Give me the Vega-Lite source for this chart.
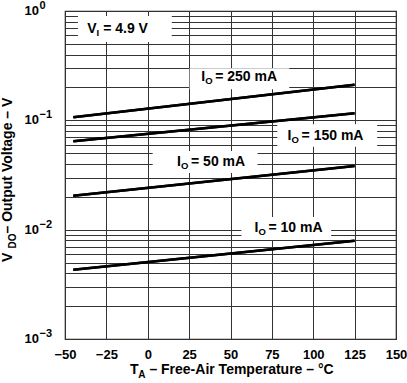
{
  "$schema": "https://vega.github.io/schema/vega-lite/v6.json",
  "width": 331,
  "height": 328,
  "autosize": {"type": "none"},
  "padding": {"left": 65, "top": 11, "right": 11, "bottom": 44},
  "background": "white",
  "config": {
    "view": {"stroke": "#222", "strokeWidth": 1.2},
    "font": "Liberation Sans",
    "text": {"font": "Liberation Sans", "fontWeight": "bold", "color": "#000"}
  },
  "resolve": {"axis": {"x": "independent", "y": "independent"}},
  "datasets": {
    "curves": [
      {"series": "250 mA", "t": -45, "v": 0.1065},
      {"series": "250 mA", "t": 125, "v": 0.212},
      {"series": "150 mA", "t": -45, "v": 0.0643},
      {"series": "150 mA", "t": 125, "v": 0.116},
      {"series": "50 mA", "t": -45, "v": 0.0204},
      {"series": "50 mA", "t": 125, "v": 0.0382},
      {"series": "10 mA", "t": -45, "v": 0.0043},
      {"series": "10 mA", "t": 125, "v": 0.00792}
    ],
    "boxes": [
      {"t": -42.2, "t2": 14.5, "v": 0.9, "v2": 0.52},
      {"t": 25.3, "t2": 85.5, "v": 0.299, "v2": 0.192},
      {"t": 78.3, "t2": 138.6, "v": 0.0919, "v2": 0.0574},
      {"t": 3.0, "t2": 66.3, "v": 0.0524, "v2": 0.033},
      {"t": 56.6, "t2": 110.8, "v": 0.01303, "v2": 0.00803}
    ],
    "iolabels": [
      {"t": 32.3, "v": 0.23, "rest": "= 250 mA"},
      {"t": 84.5, "v": 0.0661, "rest": "= 150 mA"},
      {"t": 17.7, "v": 0.0384, "rest": "= 50 mA"},
      {"t": 64.5, "v": 0.00957, "rest": "= 10 mA"}
    ],
    "vlabel": [
      {"t": -36.6, "v": 0.625, "rest": "= 4.9 V"}
    ],
    "ylabels": [
      {"v": 1, "e": "0"},
      {"v": 0.1, "e": "−1"},
      {"v": 0.01, "e": "−2"},
      {"v": 0.001, "e": "−3"}
    ]
  },
  "layer": [
    {
      "data": {"name": "curves"},
      "mark": {"type": "line", "color": "#000", "strokeWidth": 2.5, "clip": true},
      "encoding": {
        "x": {
          "field": "t", "type": "quantitative",
          "scale": {"domain": [-50, 150], "nice": false, "zero": false},
          "axis": {
            "values": [-50, -25, 0, 25, 50, 75, 100, 125, 150],
            "grid": true, "gridColor": "#333", "gridWidth": 1, "gridOpacity": 1,
            "ticks": false, "domain": false, "zindex": 0,
            "labelFont": "Liberation Sans", "labelFontWeight": "bold", "labelFontSize": 13,
            "labelColor": "#000", "labelPadding": 9, "labelFlush": false,
            "labelOverlap": false, "labelBound": false, "title": null
          }
        },
        "y": {
          "field": "v", "type": "quantitative",
          "scale": {"type": "log", "domain": [0.001, 1], "nice": false},
          "axis": {
            "values": [0.001, 0.002, 0.003, 0.004, 0.005, 0.006, 0.007, 0.008, 0.009,
                       0.01, 0.02, 0.03, 0.04, 0.05, 0.06, 0.07, 0.08, 0.09,
                       0.1, 0.2, 0.3, 0.4, 0.5, 0.6, 0.7, 0.8, 0.9, 1],
            "grid": true, "gridColor": "#333", "gridWidth": 1, "gridOpacity": 1,
            "ticks": false, "domain": false, "labels": false, "zindex": 0, "title": null
          }
        },
        "detail": {"field": "series", "type": "nominal"}
      }
    },
    {
      "data": {"name": "boxes"},
      "mark": {"type": "rect", "fill": "white", "stroke": null},
      "encoding": {
        "x": {"field": "t", "type": "quantitative", "axis": null},
        "x2": {"field": "t2"},
        "y": {"field": "v", "type": "quantitative", "axis": null},
        "y2": {"field": "v2"}
      }
    },
    {
      "data": {"name": "curves"},
      "mark": {"type": "line", "color": "#000", "strokeWidth": 2.5},
      "encoding": {
        "x": {"field": "t", "type": "quantitative", "axis": null},
        "y": {"field": "v", "type": "quantitative", "axis": null},
        "detail": {"field": "series", "type": "nominal"}
      }
    },
    {
      "data": {"name": "iolabels"},
      "mark": {"type": "text", "text": "I", "align": "left", "baseline": "alphabetic", "fontSize": 14},
      "encoding": {
        "x": {"field": "t", "type": "quantitative", "axis": null},
        "y": {"field": "v", "type": "quantitative", "axis": null}
      }
    },
    {
      "data": {"name": "iolabels"},
      "mark": {"type": "text", "text": "O", "align": "left", "baseline": "alphabetic", "fontSize": 9.5, "dx": 4, "dy": 3},
      "encoding": {
        "x": {"field": "t", "type": "quantitative", "axis": null},
        "y": {"field": "v", "type": "quantitative", "axis": null}
      }
    },
    {
      "data": {"name": "iolabels"},
      "mark": {"type": "text", "align": "left", "baseline": "alphabetic", "fontSize": 14, "dx": 14},
      "encoding": {
        "x": {"field": "t", "type": "quantitative", "axis": null},
        "y": {"field": "v", "type": "quantitative", "axis": null},
        "text": {"field": "rest"}
      }
    },
    {
      "data": {"name": "vlabel"},
      "mark": {"type": "text", "text": "V", "align": "left", "baseline": "alphabetic", "fontSize": 14},
      "encoding": {
        "x": {"field": "t", "type": "quantitative", "axis": null},
        "y": {"field": "v", "type": "quantitative", "axis": null}
      }
    },
    {
      "data": {"name": "vlabel"},
      "mark": {"type": "text", "text": "I", "align": "left", "baseline": "alphabetic", "fontSize": 9.5, "dx": 9.4, "dy": 3},
      "encoding": {
        "x": {"field": "t", "type": "quantitative", "axis": null},
        "y": {"field": "v", "type": "quantitative", "axis": null}
      }
    },
    {
      "data": {"name": "vlabel"},
      "mark": {"type": "text", "align": "left", "baseline": "alphabetic", "fontSize": 14, "dx": 16},
      "encoding": {
        "x": {"field": "t", "type": "quantitative", "axis": null},
        "y": {"field": "v", "type": "quantitative", "axis": null},
        "text": {"field": "rest"}
      }
    },
    {
      "data": {"name": "ylabels"},
      "mark": {"type": "text", "text": "10", "align": "right", "baseline": "middle", "fontSize": 13, "dx": -26},
      "encoding": {
        "x": {"datum": -50, "type": "quantitative", "axis": null},
        "y": {"field": "v", "type": "quantitative", "axis": null}
      }
    },
    {
      "data": {"name": "ylabels"},
      "mark": {"type": "text", "align": "left", "baseline": "middle", "fontSize": 11, "dx": -25.5, "dy": -5},
      "encoding": {
        "x": {"datum": -50, "type": "quantitative", "axis": null},
        "y": {"field": "v", "type": "quantitative", "axis": null},
        "text": {"field": "e"}
      }
    },
    {
      "data": {"values": [{}]},
      "layer": [
        {
          "mark": {"type": "text", "text": "T", "align": "left", "baseline": "alphabetic", "fontSize": 14}
        },
        {
          "mark": {"type": "text", "text": "A", "align": "left", "baseline": "alphabetic", "fontSize": 10, "dx": 8.3, "dy": 3.5}
        },
        {
          "mark": {"type": "text", "text": "– Free-Air Temperature – °C", "align": "left", "baseline": "alphabetic", "fontSize": 14, "dx": 19.5}
        }
      ],
      "encoding": {
        "x": {"datum": -10.8, "type": "quantitative", "axis": null},
        "y": {"datum": 0.000474, "type": "quantitative", "axis": null}
      }
    },
    {
      "data": {"values": [{}]},
      "layer": [
        {
          "mark": {"type": "text", "text": "V", "angle": 270, "align": "left", "baseline": "alphabetic", "fontSize": 14}
        },
        {
          "mark": {"type": "text", "text": "DO", "angle": 270, "align": "left", "baseline": "alphabetic", "fontSize": 10, "dx": 13.5, "dy": 3.5}
        },
        {
          "mark": {"type": "text", "text": "– Output Voltage – V", "angle": 270, "align": "left", "baseline": "alphabetic", "fontSize": 14, "dx": 28.5}
        }
      ],
      "encoding": {
        "x": {"datum": -81.9, "type": "quantitative", "axis": null},
        "y": {"datum": 0.00506, "type": "quantitative", "axis": null}
      }
    }
  ]
}
